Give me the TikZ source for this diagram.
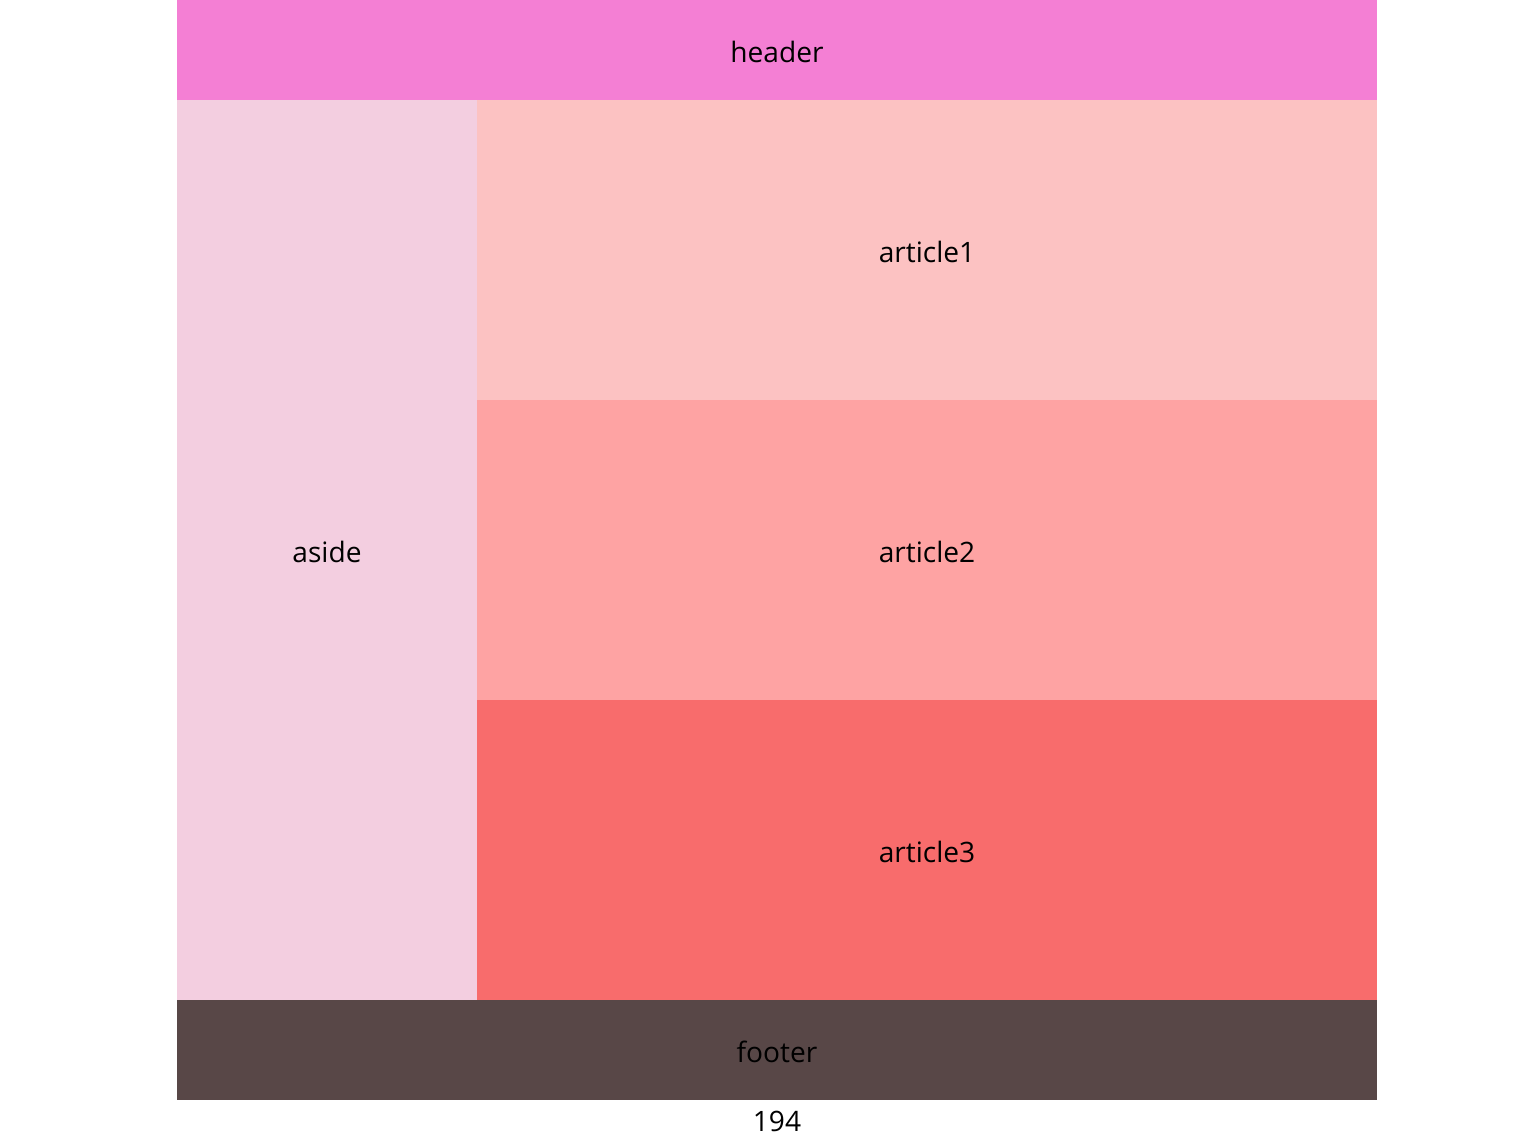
\documentclass[tikz,border=0pt]{standalone}
\usepackage{fontspec}
\setmainfont{Open Sans}
\usepackage{xcolor}
\usepackage{tikz}
\usetikzlibrary{positioning}

\definecolor{headerpink}{RGB}{244,127,212}
\definecolor{asidepink}{RGB}{243,206,224}
\definecolor{artone}{RGB}{252,194,194}
\definecolor{arttwo}{RGB}{254,163,163}
\definecolor{artthree}{RGB}{248,108,108}
\definecolor{footerbrown}{RGB}{88,71,71}

\begin{document}
\begin{tikzpicture}[x=0.02cm, y=-0.02cm,
    area/.style={inner sep=0pt, font=\fontsize{16}{19}\selectfont}]
    % Khung trang
    \useasboundingbox (0,0) rectangle (1537,1140);

    % Các vùng bố cục
    \fill[headerpink] (177,0) rectangle (1377,100);
    \fill[asidepink] (177,100) rectangle (477,1000);
    \fill[artone] (477,100) rectangle (1377,400);
    \fill[arttwo] (477,400) rectangle (1377,700);
    \fill[artthree] (477,700) rectangle (1377,1000);
    \fill[footerbrown] (177,1000) rectangle (1377,1100);

    % Nhãn
    \node[area] (header) at (777,52) {header};
    \node[area] (aside) at (327,552) {aside};
    \node[area] (article1) at (927,252) {article1};
    \node[area] (article2) at (927,552) {article2};
    \node[area] (article3) at (927,852) {article3};
    \node[area] (footer) at (777,1052) {footer};
    \node[area] (size) at (777,1121) {194};
\end{tikzpicture}
\end{document}
